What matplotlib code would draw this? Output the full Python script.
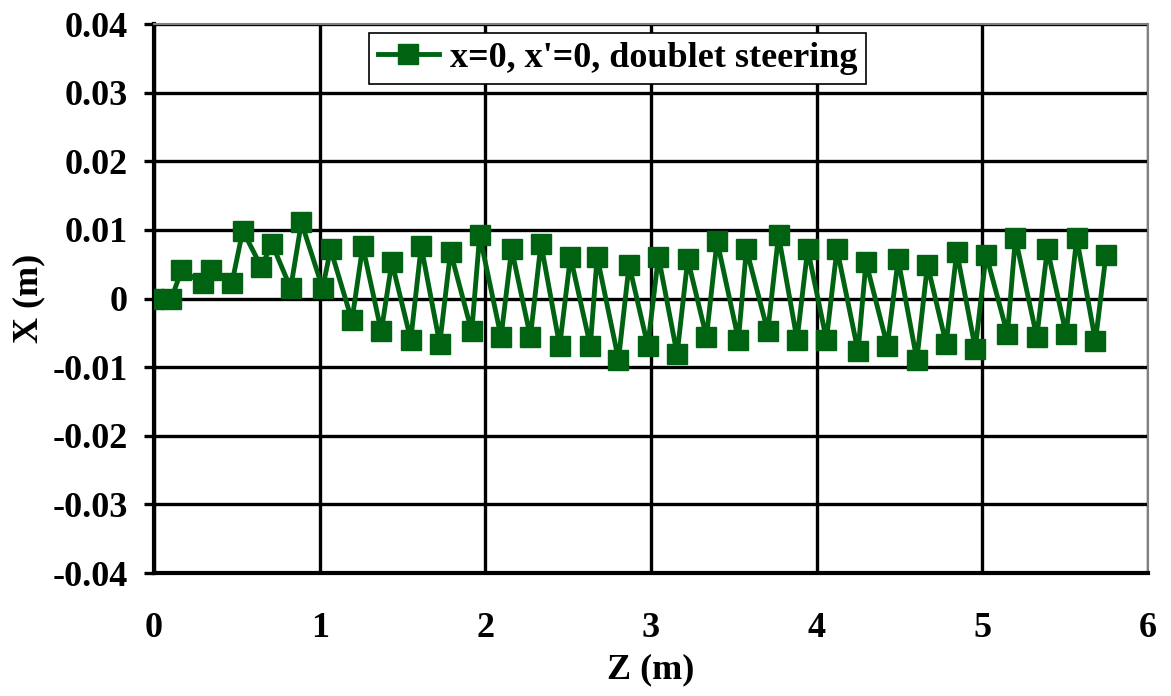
import matplotlib
matplotlib.use('Agg')
import matplotlib.pyplot as plt

# Z (m) positions of the markers
z = [0.0, 0.105, 0.166, 0.297, 0.343, 0.47, 0.536, 0.648, 0.712, 0.825, 0.89,
     1.018, 1.066, 1.195, 1.26, 1.372, 1.436, 1.55, 1.613, 1.725, 1.79, 1.918, 1.966,
     2.095, 2.159, 2.272, 2.336, 2.449, 2.514, 2.634, 2.675, 2.804, 2.868, 2.981,
     3.045, 3.158, 3.222, 3.335, 3.399, 3.528, 3.576, 3.705, 3.77, 3.882, 3.946,
     4.059, 4.123, 4.25, 4.298, 4.427, 4.492, 4.605, 4.669, 4.782, 4.846, 4.958,
     5.023, 5.152, 5.2, 5.329, 5.393, 5.506, 5.57, 5.683, 5.747]
# X (m) offsets
x = [0.0, 0.0, 0.0041, 0.0022, 0.0041, 0.0022, 0.0099, 0.0046, 0.0080, 0.0015, 0.0111,
     0.0015, 0.0072, -0.0032, 0.0076, -0.0048, 0.0053, -0.0060, 0.0076, -0.0066, 0.0068,
     -0.0048, 0.0092, -0.0056, 0.0072, -0.0056, 0.0080, -0.0069, 0.0061, -0.0069, 0.0061,
     -0.0089, 0.0049, -0.0069, 0.0061, -0.0081, 0.0057, -0.0056, 0.0084, -0.0060, 0.0072,
     -0.0048, 0.0092, -0.0060, 0.0072, -0.0060, 0.0072, -0.0077, 0.0053, -0.0069, 0.0057,
     -0.0089, 0.0049, -0.0066, 0.0068, -0.0073, 0.0064, -0.0052, 0.0088, -0.0056, 0.0072,
     -0.0052, 0.0088, -0.0062, 0.0064]

xticks = [0, 1, 2, 3, 4, 5, 6]
yticks = [0.04, 0.03, 0.02, 0.01, 0, -0.01, -0.02, -0.03, -0.04]
ylabels = ['0.04', '0.03', '0.02', '0.01', '0', '-0.01', '-0.02', '-0.03', '-0.04']

plt.rcParams['font.family'] = ['Liberation Serif', 'DejaVu Serif']
plt.rcParams['font.weight'] = 'bold'

fig = plt.figure(figsize=(11.71, 6.96), dpi=100)
ax = fig.add_axes([0.1315, 0.1767, 0.8488, 0.7888])

green = '#006312'
ax.plot(z, x, color=green, lw=3.5, marker='s', ms=15, mec=green, mfc=green,
        label="x=0, x'=0, doublet steering", zorder=3)

ax.set_xlim(0, 6)
ax.set_ylim(-0.04, 0.04)
ax.set_xticks(xticks)
ax.set_yticks(yticks)
ax.set_yticklabels(ylabels)
ax.grid(True, color='black', lw=2.4)
ax.set_axisbelow(True)

for s in ['left', 'bottom']:
    ax.spines[s].set_color('black')
    ax.spines[s].set_linewidth(3)
for s in ['top', 'right']:
    ax.spines[s].set_color('#808080')
    ax.spines[s].set_linewidth(1.5)

ax.tick_params(axis='y', length=7, width=2.4, pad=12, labelsize=26)
ax.tick_params(axis='x', length=0, pad=28, labelsize=26)
for lab in ax.get_xticklabels() + ax.get_yticklabels():
    lab.set_fontweight('bold')

ax.set_xlabel('Z (m)', fontsize=26, fontweight='bold', labelpad=6)
ax.set_ylabel('X (m)', fontsize=26, fontweight='bold', labelpad=5)

leg = ax.legend(loc='upper left', bbox_to_anchor=(0.216, 0.984),
                prop={'weight': 'bold', 'size': 26}, frameon=True, fancybox=False,
                handlelength=1.7, handletextpad=0.3, borderpad=0.25, borderaxespad=0)
leg.get_frame().set_edgecolor('black')
leg.get_frame().set_linewidth(1.2)
leg.get_frame().set_alpha(1)

plt.savefig('out.png', dpi=100)
